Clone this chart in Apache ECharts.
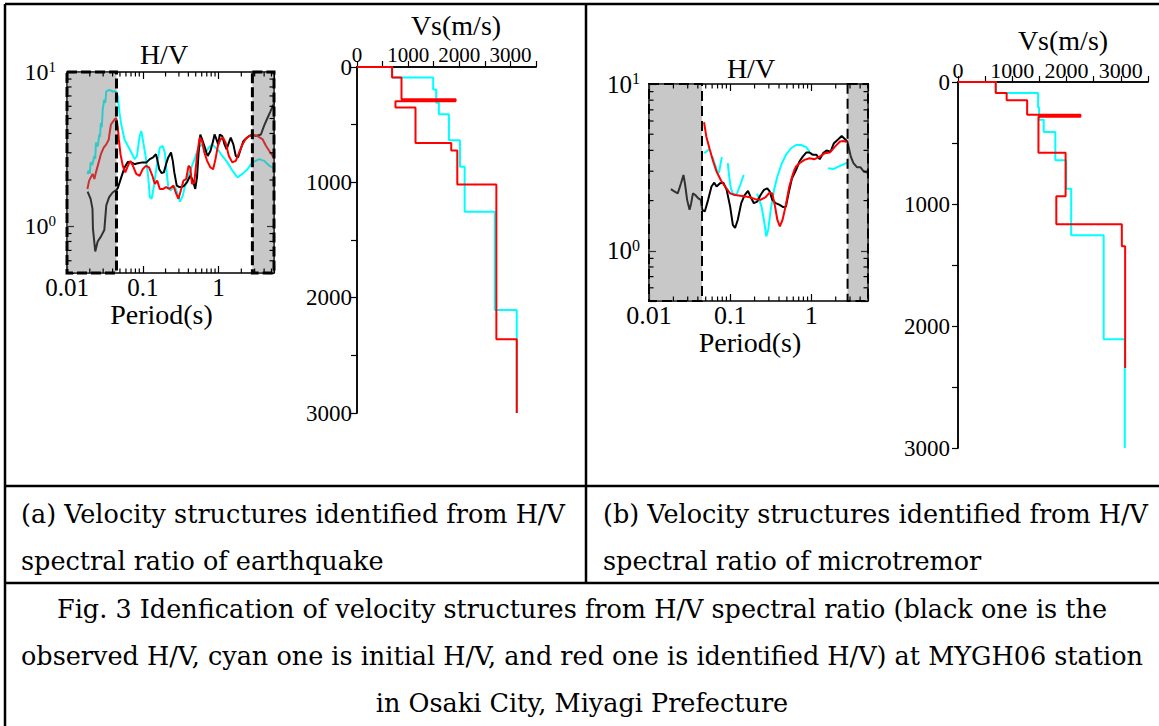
<!DOCTYPE html>
<html>
<head>
<meta charset="utf-8">
<script src="https://cdn.jsdelivr.net/npm/echarts@6/dist/echarts.min.js"></script>
<style>
html,body{margin:0;padding:0;background:#fff;}
#c{width:1159px;height:726px;}
</style>
</head>
<body>
<div id="c"></div>
<script>
// ---------------- DATA ----------------
// (a) earthquake H/V  [period(s), H/V]
const eqObserved = [[0.0187,1.68],[0.0205,1.51],[0.0217,1.30],[0.022,0.97],[0.0236,0.69],[0.0254,0.80],[0.028,0.86],[0.0311,0.95],[0.033,1.37],[0.036,1.55],[0.040,1.66],[0.045,1.73],[0.047,1.78],
 [0.052,2.08],[0.0575,2.41],[0.0637,2.62],[0.0707,2.60],[0.0782,2.53],[0.0865,2.57],[0.099,2.60],[0.112,2.60],[0.124,2.73],[0.137,2.80],[0.149,2.94],[0.155,2.73],[0.165,2.35],[0.177,2.22],[0.19,2.24],[0.203,2.53],[0.217,2.80],[0.236,3.01],[0.249,2.66],[0.261,2.24],[0.281,1.84],[0.305,1.80],[0.328,1.80],[0.352,1.84],[0.383,1.93],[0.424,2.13],[0.46,1.98],[0.493,1.75],[0.52,2.08],[0.546,3.01],[0.575,3.94],[0.607,3.66],[0.65,3.32],[0.692,3.01],[0.72,2.86],[0.782,3.08],[0.849,3.57],[0.885,3.94],[0.94,3.66],[0.99,3.40],[1.04,3.94],[1.12,3.85],[1.20,3.40],[1.28,3.16],[1.37,3.49],[1.45,3.76],[1.57,3.40],[1.69,2.86],[1.81,2.80],[1.96,3.16],[2.13,3.57],[2.29,3.70],[2.54,3.85],[2.81,3.94],[3.1,3.85],[3.63,3.94],[4.0,4.5],[4.4,5.0],[4.8,5.5],[5.19,6.0],[5.4,6.3]];
const eqInitial = [[0.0186,2.19],[0.0193,2.30],[0.0200,2.20],[0.0205,2.60],[0.0215,2.50],[0.023,2.86],[0.0236,2.75],[0.0241,3.49],[0.0255,3.30],[0.0267,3.94],[0.0273,3.80],[0.028,4.68],[0.0288,4.40],[0.0296,5.71],[0.031,6.62],[0.032,6.30],[0.033,7.49],[0.0363,7.67],[0.04,7.49],[0.0446,7.49],[0.0469,6.94],[0.0493,5.44],[0.052,4.57],[0.0575,3.66],[0.0637,3.32],[0.0707,3.01],[0.0782,2.73],[0.0839,2.86],[0.0909,3.85],[0.0957,4.14],[0.1,3.66],[0.109,2.86],[0.118,2.1],[0.124,1.55],[0.131,1.51],[0.141,1.84],[0.155,2.60],[0.168,3.24],[0.183,3.32],[0.196,3.01],[0.207,2.24],[0.217,1.80],[0.234,1.71],[0.254,1.80],[0.267,1.80],[0.287,1.63],[0.311,1.45],[0.338,1.59],[0.363,1.84],[0.402,2.13],[0.446,2.47],[0.493,2.80],[0.546,3.24],[0.607,3.40],[0.672,3.01],[0.742,3.24],[0.824,3.40],[0.912,3.24],[1.01,3.08],[1.12,2.86],[1.31,2.60],[1.52,2.30],[1.78,2.08],[2.07,2.19],[2.41,2.35],[2.81,2.60],[3.45,2.73],[4.01,2.66],[4.69,2.47],[5.19,2.41],[5.4,2.38]];
const eqIdentified = [[0.0186,1.75],[0.0196,1.98],[0.0218,2.19],[0.023,2.03],[0.0241,2.24],[0.0262,2.60],[0.028,2.94],[0.0305,3.24],[0.033,3.40],[0.0356,3.66],[0.0363,3.94],[0.038,4.57],[0.0423,4.92],[0.0446,5.04],[0.0467,4.46],[0.0483,3.66],[0.0508,2.94],[0.0545,2.47],[0.0588,2.24],[0.0637,2.47],[0.0685,2.66],[0.0742,2.47],[0.082,2.19],[0.0909,2.13],[0.1,2.35],[0.11,2.47],[0.121,2.41],[0.134,2.13],[0.144,1.89],[0.155,1.98],[0.168,1.75],[0.186,1.75],[0.203,1.80],[0.224,1.75],[0.254,1.84],[0.276,1.63],[0.296,1.51],[0.318,1.71],[0.344,1.98],[0.374,2.03],[0.402,2.47],[0.424,2.41],[0.446,1.89],[0.479,1.93],[0.52,2.86],[0.563,3.76],[0.607,3.57],[0.65,3.01],[0.707,2.66],[0.782,2.41],[0.849,2.35],[0.912,2.73],[0.98,3.32],[1.06,3.66],[1.15,3.76],[1.24,3.49],[1.37,2.86],[1.52,2.60],[1.69,2.66],[1.87,3.01],[2.07,3.40],[2.29,3.70],[2.54,3.85],[2.81,3.94],[3.28,3.85],[3.83,3.66],[4.24,3.32],[4.69,3.08],[5.19,2.86],[5.4,2.8]];

// (b) microtremor H/V
const mtObserved = [[0.0186,2.34],[0.0205,2.27],[0.0226,2.21],[0.0248,2.54],[0.0266,2.85],[0.0279,2.48],[0.0295,2.02],[0.0316,1.76],[0.0331,1.93],[0.0348,2.21],[0.0372,2.16],[0.0402,2.07],[0.0434,2.02],[0.0454,1.76],[0.0487,1.72],[0.0535,2.02],[0.0589,2.43],[0.0637,2.56],[0.068,2.43],[0.075,2.54],[0.0824,2.56],[0.0906,2.32],[0.1,1.84],[0.108,1.43],[0.115,1.37],[0.124,1.53],[0.137,1.93],[0.151,2.16],[0.166,2.29],[0.178,2.11],[0.196,1.93],[0.215,1.97],[0.237,2.16],[0.261,2.32],[0.287,2.37],[0.307,2.27],[0.331,2.02],[0.365,1.93],[0.402,1.89],[0.451,1.83],[0.487,1.84],[0.525,2.21],[0.578,2.72],[0.649,3.05],[0.714,3.43],[0.785,3.67],[0.865,3.88],[0.953,3.88],[1.05,3.76],[1.16,3.76],[1.27,3.54],[1.40,3.85],[1.54,3.99],[1.73,3.93],[1.90,4.42],[2.15,4.67],[2.37,4.88],[2.61,4.67],[2.79,4.51],[3.07,3.67],[3.31,3.35],[3.65,3.17],[4.02,3.17],[4.42,2.99],[4.87,2.94],[5.0,2.96]];
const mtIdentified = [[0.0477,5.90],[0.0509,4.83],[0.0562,4.03],[0.0618,3.43],[0.068,2.99],[0.0771,2.64],[0.0865,2.43],[0.1,2.21],[0.115,2.16],[0.14,2.13],[0.169,2.10],[0.205,2.04],[0.237,2.02],[0.274,2.10],[0.307,2.23],[0.331,2.21],[0.358,1.84],[0.382,1.53],[0.41,1.40],[0.442,1.53],[0.487,1.89],[0.536,2.43],[0.589,2.85],[0.618,3.05],[0.649,3.20],[0.714,3.35],[0.824,3.51],[0.953,3.59],[1.10,3.54],[1.27,3.67],[1.47,3.85],[1.69,3.88],[1.96,4.21],[2.26,4.52],[2.53,4.55],[2.74,4.48]];
const mtInitialA = [[0.0477,3.85],[0.0509,3.93],[0.0548,4.06]];
const mtInitialB = [[0.0600,3.70],[0.0650,3.30],[0.0700,2.95],[0.0730,2.95],[0.0760,3.30],[0.0790,3.65]];
const mtInitialC = [[0.0935,3.35],[0.0973,2.79],[0.102,2.37],[0.11,2.16],[0.121,2.19],[0.133,2.48],[0.147,2.85]];
const mtInitialD = [[0.215,2.20],[0.244,1.84],[0.261,1.53],[0.279,1.22],[0.295,1.34],[0.316,1.76],[0.348,2.32],[0.382,2.79],[0.434,3.35],[0.487,3.76],[0.562,4.12],[0.649,4.31],[0.75,4.31],[0.865,4.18],[0.953,3.93]];
const mtInitialE = [[1.61,3.13],[1.86,3.09],[2.26,3.23],[2.79,3.38]];

// velocity structures: layer Vs (m/s) and layer bottom depth (m)
const eqInitVs     = [686,1490,1549,1601,1797,2013,2105,2693,3124];
const eqInitBottom = [92,196,309,410,635,865,1255,2106,3000];
const eqIdVs       = [686,870,1928,752,1144,1843,1961,2725,3124];
const eqIdBottom   = [92,280,297,352,658,723,1018,2360,3000];
const mtInitVs     = [695,1476,1494,1579,1793,1994,2085,2683,3073];
const mtInitBottom = [90,210,309,410,642,874,1257,2109,3000];
const mtIdVs       = [695,896,1274,2256,1482,1982,1811,3018,3079];
const mtIdBottom   = [90,150,268,284,579,937,1167,1347,2344];

// reliable-range limits (shaded outside)
const eqShade = [[0.01,0.045],[2.8,5.4]];
const mtShade = [[0.01,0.045],[2.8,5.0]];

// ticks
const periodLabels = [0.01,0.1,1];
const periodMinorL = [0.02,0.03,0.04,0.05,0.06,0.07,0.08,0.09,0.2,0.3,0.4,0.5,0.6,0.7,0.8,0.9,2,3,4,5];
const periodMinorR = [0.02,0.03,0.04,0.05,0.06,0.07,0.08,0.09,0.2,0.3,0.4,0.5,0.6,0.7,0.8,0.9,2,3,4];
const hvMinor = [0.6,0.7,0.8,0.9,2,3,4,5,6,7,8,9];
const vsLabels = [0,1000,2000,3000];

// ---------------- CHART ----------------
const SERIF = '"Liberation Serif","Times New Roman",serif';
const CAP = '"DejaVu Serif",serif';
const chart = echarts.init(document.getElementById('c'), null, {renderer:'svg'});

function isPow10(v){ const l=Math.log10(v); return Math.abs(l-Math.round(l))<1e-6; }
function profile(vs, bottoms){
  const pts=[[0,0]]; let top=0;
  for(let i=0;i<vs.length;i++){ pts.push([vs[i],top]); pts.push([vs[i],bottoms[i]]); top=bottoms[i]; }
  return pts;
}
const AXL = {lineStyle:{color:'#000',width:1.5}};

function hvXAxes(gi, xmax, fs, nameFs, labMargin, titleGap, titlePad, nameGap, namePad){
  return [
    {gridIndex:gi,type:'log',logBase:10,min:0.01,max:xmax,position:'bottom',axisLine:AXL,
     axisTick:{inside:true,length:7,lineStyle:{color:'#000',width:1.2}},splitLine:{show:false},
     axisLabel:{margin:labMargin,color:'#000',fontFamily:SERIF,fontSize:fs,
       formatter:v=> (isPow10(v) && periodLabels.some(p=>Math.abs(p-v)/p<1e-6)) ? String(+(+v).toPrecision(2)) : ''},
     name:'Period(s)',nameLocation:'middle',nameGap:nameGap,
     nameTextStyle:{color:'#000',fontFamily:SERIF,fontSize:nameFs,padding:namePad}},
    {gridIndex:gi,type:'log',logBase:10,min:0.01,max:xmax,position:'top',axisLine:AXL,
     axisTick:{inside:true,length:7,lineStyle:{color:'#000',width:1.2}},splitLine:{show:false},
     axisLabel:{show:false},
     name:'H/V',nameLocation:'middle',nameGap:titleGap,
     nameTextStyle:{color:'#000',fontFamily:SERIF,fontSize:nameFs,padding:titlePad}}
  ];
}
function hvYAxes(gi, fs, sfs, margin){
  return [
    {gridIndex:gi,type:'log',logBase:10,min:0.5,max:10,position:'left',axisLine:AXL,
     axisTick:{inside:true,length:7,lineStyle:{color:'#000',width:1.2}},splitLine:{show:false},
     axisLabel:{margin:margin,formatter:v=>isPow10(v)?('{b|10}{s|'+Math.round(Math.log10(v))+'}'):'',
       rich:{b:{fontFamily:SERIF,fontSize:fs,color:'#000',lineHeight:fs+2},
             s:{fontFamily:SERIF,fontSize:sfs,color:'#000',verticalAlign:'top',lineHeight:sfs}}}},
    {gridIndex:gi,type:'log',logBase:10,min:0.5,max:10,position:'right',axisLine:AXL,
     axisTick:{inside:true,length:7,lineStyle:{color:'#000',width:1.2}},splitLine:{show:false},
     axisLabel:{show:false}}
  ];
}
function vsXAxes(gi, fs, labMargin, titleGap, titlePad){
  return [
    {gridIndex:gi,type:'value',min:0,max:3500,interval:1000,position:'top',axisLine:AXL,
     axisTick:{show:false},splitLine:{show:false},
     axisLabel:{margin:labMargin,color:'#000',fontFamily:SERIF,fontSize:fs,
       formatter:v=>vsLabels.indexOf(v)>=0?String(v):''},
     name:'Vs(m/s)',nameLocation:'middle',nameGap:titleGap,nameMoveOverlap:false,
     nameTextStyle:{color:'#000',fontFamily:SERIF,fontSize:28,padding:titlePad}},
    {gridIndex:gi,type:'value',min:0,max:3500,interval:500,position:'bottom',axisLine:AXL,
     axisTick:{inside:true,length:6,lineStyle:{color:'#000',width:1.2}},splitLine:{show:false},
     axisLabel:{show:false}}
  ];
}
function vsYAxes(gi, fs, margin){
  return [
    {gridIndex:gi,type:'value',min:0,max:3000,interval:1000,inverse:true,position:'left',axisLine:AXL,
     axisTick:{show:false},splitLine:{show:false},
     axisLabel:{margin:margin,color:'#000',fontFamily:SERIF,fontSize:fs,
       formatter:v=>vsLabels.indexOf(v)>=0?String(v):''}},
    {gridIndex:gi,type:'value',min:0,max:3000,interval:500,inverse:true,position:'right',axisLine:AXL,
     axisTick:{inside:true,length:6,lineStyle:{color:'#000',width:1.2}},splitLine:{show:false},
     axisLabel:{show:false}}
  ];
}

function shadeSeries(xi, yi, ranges, lw, dash){
  return {type:'custom',xAxisIndex:xi,yAxisIndex:yi,z:5,silent:true,
    encode:{x:[0,2],y:[1,3]},
    data:ranges.map(r=>[r[0],0.5,r[1],10]),
    renderItem:(params,api)=>{
      const p0=api.coord([api.value(0),api.value(3)]);
      const p1=api.coord([api.value(2),api.value(1)]);
      return {type:'rect',shape:{x:p0[0],y:p0[1],width:p1[0]-p0[0],height:p1[1]-p0[1]},
        style:{fill:'rgba(122,122,122,0.41)',stroke:'#000',lineWidth:lw,lineDash:dash}};
    }};
}
function minorTickSeries(xi, yi, xs, ys){
  return {type:'custom',xAxisIndex:xi,yAxisIndex:yi,z:6,silent:true,
    data:xs.map(v=>[v,1,0]).concat(ys.map(v=>[0.1,v,1])),
    renderItem:(params,api)=>{
      const cs=params.coordSys, L=4.5, st={stroke:'#000',lineWidth:1.2};
      if(api.value(2)===0){
        const x=api.coord([api.value(0),1])[0];
        return {type:'group',children:[
          {type:'line',shape:{x1:x,y1:cs.y+cs.height,x2:x,y2:cs.y+cs.height-L},style:st},
          {type:'line',shape:{x1:x,y1:cs.y,x2:x,y2:cs.y+L},style:st}]};
      }
      const y=api.coord([0.1,api.value(1)])[1];
      return {type:'group',children:[
        {type:'line',shape:{x1:cs.x,y1:y,x2:cs.x+L,y2:y},style:st},
        {type:'line',shape:{x1:cs.x+cs.width,y1:y,x2:cs.x+cs.width-L,y2:y},style:st}]};
    }};
}
function line(xi, yi, data, color, z){
  return {type:'line',xAxisIndex:xi,yAxisIndex:yi,data:data,showSymbol:false,symbol:'none',
    lineStyle:{color:color,width:2},z:z||2,silent:true,animation:false};
}

const xAxes = [].concat(
  hvXAxes(0,5.4,25,28,2,4,[0,13,0,0],26,[0,18,0,0]),       // 0,1
  vsXAxes(1,21,2,28,[0,0,0,19]),                           // 2,3
  hvXAxes(2,5.0,26,28,1,2,[0,15,0,0],26,[0,17,0,0]),       // 4,5
  vsXAxes(3,22,1,28,[0,0,0,20])                            // 6,7
);
const yAxes = [].concat(
  hvYAxes(0,24,15,11),  // 0,1
  vsYAxes(1,23,5),      // 2,3
  hvYAxes(2,25,16,9),   // 4,5
  vsYAxes(3,23,8)       // 6,7
);

const series = [
  line(0,0,eqInitial,'#00ffff'),
  line(0,0,eqObserved,'#000000'),
  line(0,0,eqIdentified,'#ff0000'),
  shadeSeries(0,0,eqShade,3,[10,4]),
  minorTickSeries(0,0,periodMinorL,hvMinor),

  line(2,2,profile(eqInitVs,eqInitBottom),'#00ffff'),
  line(2,2,profile(eqIdVs,eqIdBottom),'#ff0000',3),

  line(4,4,mtInitialA,'#00ffff'),
  line(4,4,mtInitialB,'#00ffff'),
  line(4,4,mtInitialC,'#00ffff'),
  line(4,4,mtInitialD,'#00ffff'),
  line(4,4,mtInitialE,'#00ffff'),
  line(4,4,mtObserved,'#000000'),
  line(4,4,mtIdentified,'#ff0000'),
  shadeSeries(4,4,mtShade,2,[10,5]),
  minorTickSeries(4,4,periodMinorR,hvMinor),

  line(6,6,profile(mtInitVs,mtInitBottom),'#00ffff'),
  line(6,6,profile(mtIdVs,mtIdBottom),'#ff0000',3)
];

const T = (t,x,y,align)=>({type:'text',x:x,y:y,silent:true,
  style:{text:t,fill:'#000',font:'25.5px '+CAP,textAlign:align||'left',textVerticalAlign:'middle'}});
const L = (x1,y1,x2,y2)=>({type:'line',silent:true,shape:{x1,y1,x2,y2},style:{stroke:'#000',lineWidth:2.5}});

const option = {
  animation:false,
  backgroundColor:'#fff',
  grid:[
    {left:67,top:72,width:207,height:201},
    {left:357,top:67,width:179,height:346},
    {left:649,top:84,width:219,height:217},
    {left:958,top:82,width:190,height:366}
  ],
  xAxis:xAxes,
  yAxis:yAxes,
  series:series,
  graphic:[
    L(5,4,1159,4), L(5,4,5,726), L(586,4,586,583), L(5,486,1159,486), L(5,583,1159,583),
    T('(a) Velocity structures identified from H/V',21,514),
    T('spectral ratio of earthquake',21,561),
    T('(b) Velocity structures identified from H/V',603,514),
    T('spectral ratio of microtremor',603,561),
    T('Fig. 3 Idenfication of velocity structures from H/V spectral ratio (black one is the',582,609,'center'),
    T('observed H/V, cyan one is initial H/V, and red one is identified H/V) at MYGH06 station',582,656,'center'),
    T('in Osaki City, Miyagi Prefecture',582,703,'center')
  ]
};
chart.setOption(option);
</script>
</body>
</html>
